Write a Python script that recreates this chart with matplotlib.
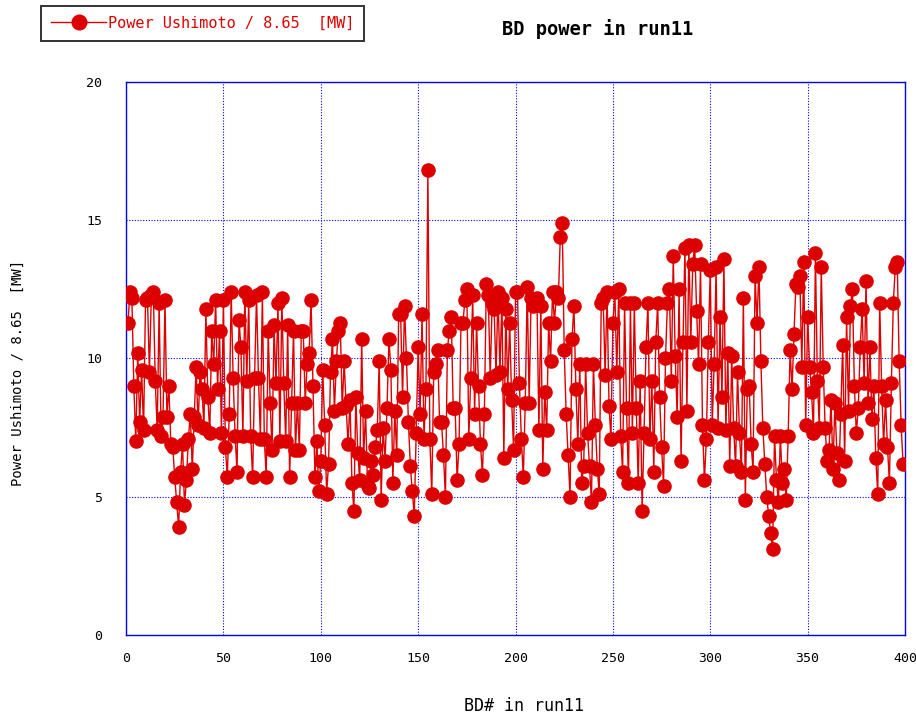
import matplotlib
matplotlib.use("Agg")
import matplotlib.pyplot as plt

# BD power per breakdown event (Power Ushimoto / 8.65, MW), BD# 1..399
power = [
    # 1-20
    11.3, 12.4, 12.2, 9.0, 7.0, 10.2, 7.7, 9.6, 7.4, 12.1,
    12.2, 9.5, 12.3, 12.4, 9.2, 7.4, 12.0, 7.2, 7.9, 12.1,
    # 21-40
    7.9, 9.0, 6.9, 6.8, 5.7, 4.8, 3.9, 5.9, 6.9, 4.7,
    5.6, 7.1, 8.0, 6.0, 7.9, 9.7, 7.6, 9.5, 8.9, 7.5,
    # 41-60
    11.8, 8.6, 7.3, 11.0, 9.8, 12.1, 8.9, 11.0, 7.3, 12.1,
    6.8, 5.7, 8.0, 12.4, 9.3, 7.2, 5.9, 11.4, 10.4, 7.2,
    # 61-80
    12.4, 9.2, 12.1, 7.2, 5.7, 9.3, 12.3, 9.3, 7.1, 12.4,
    7.1, 5.7, 11.0, 8.4, 6.7, 11.2, 9.1, 12.0, 7.0, 12.2,
    # 81-100
    9.1, 7.0, 11.2, 5.7, 8.4, 11.0, 6.7, 8.4, 6.7, 11.0,
    11.0, 8.4, 9.8, 10.2, 12.1, 9.0, 5.7, 7.0, 5.2, 6.3,
    # 101-120
    9.6, 7.6, 5.1, 6.2, 9.5, 10.7, 8.1, 9.9, 11.0, 11.3,
    8.2, 9.9, 8.3, 6.9, 8.5, 5.5, 4.5, 8.6, 6.6, 5.6,
    # 121-140
    10.7, 6.4, 8.1, 5.4, 5.3, 6.3, 5.8, 6.8, 7.4, 9.9,
    4.9, 7.5, 6.3, 8.2, 10.7, 9.6, 5.5, 8.1, 6.5, 11.6,
    # 141-160
    11.6, 8.6, 11.9, 10.0, 7.7, 6.1, 5.2, 4.3, 7.3, 10.4,
    8.0, 11.6, 7.1, 8.9, 16.8, 7.1, 5.1, 9.5, 9.8, 10.3,
    # 161-180
    7.7, 7.7, 6.5, 5.0, 10.3, 11.0, 11.5, 8.2, 8.2, 5.6,
    6.9, 11.3, 11.3, 12.1, 12.5, 7.1, 9.3, 12.3, 8.0, 11.3,
    # 181-200
    9.0, 6.9, 5.8, 8.0, 12.7, 12.3, 9.3, 12.0, 11.8, 9.4,
    12.4, 9.5, 12.2, 6.4, 11.8, 8.9, 11.3, 8.5, 6.7, 12.4,
    # 201-220
    12.4, 9.1, 7.1, 5.7, 8.4, 12.6, 8.4, 12.2, 11.9, 12.0,
    12.2, 7.4, 11.9, 6.0, 8.8, 7.4, 11.3, 9.9, 12.4, 11.3,
    # 221-240
    12.4, 12.2, 14.4, 14.9, 10.3, 8.0, 6.5, 5.0, 10.7, 11.9,
    8.9, 6.9, 9.8, 5.5, 6.1, 9.8, 7.3, 6.1, 4.8, 9.8,
    # 241-260
    7.6, 6.0, 5.1, 12.0, 12.2, 9.4, 12.4, 8.3, 7.1, 11.3,
    12.4, 9.5, 12.5, 7.2, 5.9, 12.0, 8.2, 5.5, 12.0, 7.3,
    # 261-280
    12.0, 8.2, 5.5, 9.2, 4.5, 7.3, 10.4, 12.0, 7.1, 9.2,
    5.9, 10.6, 12.0, 8.6, 6.8, 5.4, 10.0, 12.0, 12.5, 9.2,
    # 281-300
    13.7, 10.1, 7.9, 12.5, 6.3, 10.6, 14.0, 8.1, 14.1, 10.6,
    13.4, 14.1, 11.7, 9.8, 13.4, 7.6, 5.6, 7.1, 10.6, 13.2,
    # 301-320
    7.6, 9.8, 13.3, 7.5, 11.5, 8.6, 13.6, 7.4, 10.2, 6.1,
    10.1, 7.5, 6.1, 9.5, 7.3, 5.9, 12.2, 4.9, 8.9, 9.0,
    # 321-340
    6.9, 5.9, 13.0, 11.3, 13.3, 9.9, 7.5, 6.2, 5.0, 4.3,
    3.7, 3.1, 7.2, 5.6, 4.8, 7.2, 5.5, 6.0, 4.9, 7.2,
    # 341-360
    10.3, 8.9, 10.9, 12.7, 12.6, 13.0, 9.7, 13.5, 7.6, 11.5,
    9.7, 8.8, 7.3, 13.8, 9.2, 7.5, 13.3, 9.7, 7.5, 6.3,
    # 361-380
    6.7, 8.5, 6.0, 8.4, 6.6, 5.6, 8.0, 10.5, 6.3, 11.5,
    8.1, 11.9, 12.5, 9.0, 7.3, 8.2, 10.4, 11.8, 9.1, 12.8,
    # 381-399
    8.4, 10.4, 7.8, 9.0, 6.4, 5.1, 12.0, 9.0, 6.9, 8.5,
    6.8, 5.5, 9.1, 12.0, 13.3, 13.5, 9.9, 7.6, 6.2,
]
bd_number = list(range(1, len(power) + 1))

x_ticks = [0, 50, 100, 150, 200, 250, 300, 350, 400]
y_ticks = [0, 5, 10, 15, 20]

series_label = "Power Ushimoto / 8.65  [MW]"
title_text = "BD power in run11"
x_label = "BD# in run11"

red = "#dd0000"
blue = "#0000ee"
mono = ["DejaVu Sans Mono"]

fig = plt.figure(figsize=(9.16, 7.18), dpi=100)
ax = fig.add_axes([0.1376, 0.1156, 0.8504, 0.7702])

line, = ax.plot(bd_number, power, color=red, lw=1.0, marker="o",
                markersize=10.5, markeredgewidth=0, label=series_label,
                zorder=3)

ax.set_xlim(x_ticks[0], x_ticks[-1])
ax.set_ylim(y_ticks[0], y_ticks[-1])
ax.set_xticks(x_ticks)
ax.set_yticks(y_ticks)
ax.grid(True, color=blue, linestyle=(0, (1, 1.5)), linewidth=0.8, zorder=0)
for sp in ax.spines.values():
    sp.set_color(blue)
    sp.set_linewidth(1.0)
ax.tick_params(length=0, labelsize=9.5, colors="black")
ax.tick_params(axis="x", pad=12)
ax.tick_params(axis="y", pad=17)
for lab in ax.get_xticklabels() + ax.get_yticklabels():
    lab.set_family(mono)

fig.text(0.652, 0.960, title_text, ha="center", va="center",
         fontsize=13.5, fontweight="bold", family=mono)
fig.text(0.572, 0.017, x_label, ha="center", va="center",
         fontsize=12, family=mono)
fig.text(0.020, 0.481, series_label, ha="center", va="center",
         rotation=90, fontsize=10, family=mono)

leg = fig.legend(handles=[line], loc="upper left",
                 bbox_to_anchor=(0.045, 0.992), frameon=True,
                 fancybox=False, shadow=False, edgecolor="black",
                 prop={"family": mono, "size": 11}, handlelength=3.6,
                 handletextpad=0.1, borderpad=0.65, borderaxespad=0,
                 markerscale=1.1)
leg.get_frame().set_linewidth(1.4)
for t in leg.get_texts():
    t.set_color(red)

fig.savefig("out.png", dpi=100)
